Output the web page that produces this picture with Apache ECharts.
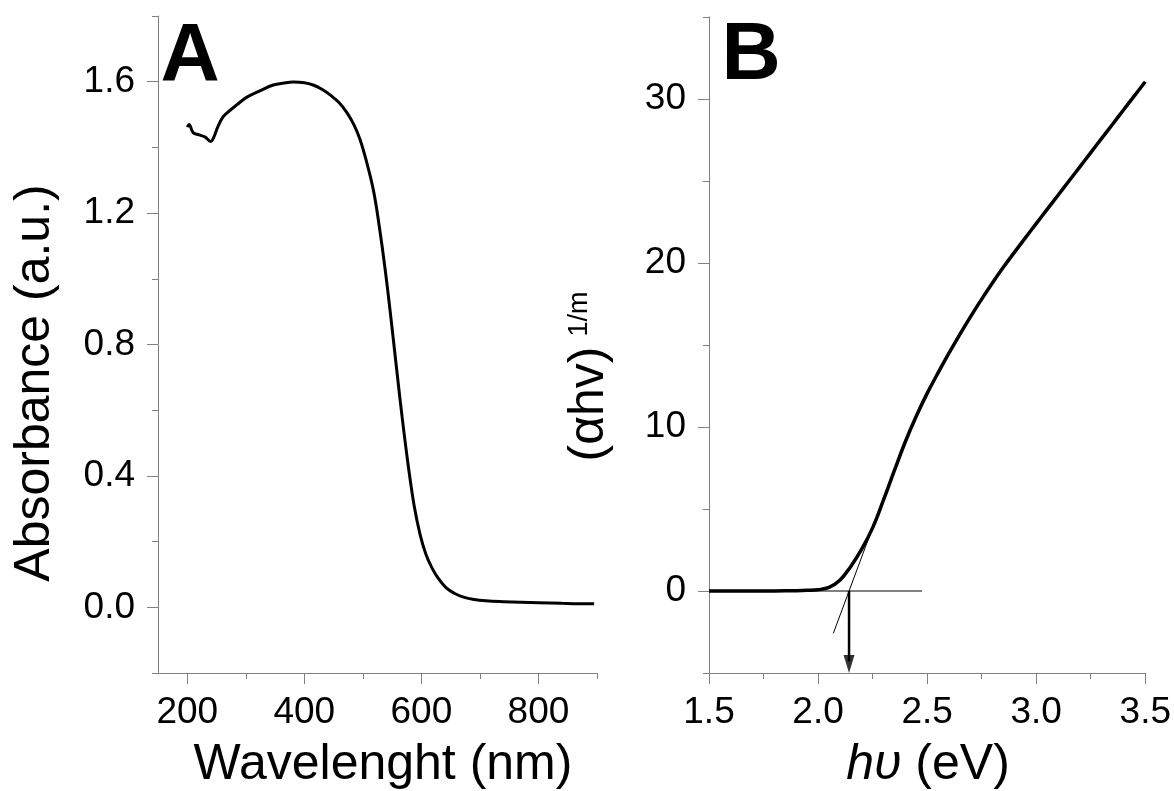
<!DOCTYPE html>
<html><head><meta charset="utf-8">
<script src="https://cdn.jsdelivr.net/npm/echarts@6/dist/echarts.min.js"></script>
<style>html,body{margin:0;padding:0;background:#fff}#c{width:1174px;height:791px}</style>
</head><body><div id="c"></div>
<script>
// Panel A: absorbance spectrum
const wavelength = [200,203,210,220,230,240,245,252,260,268,285,302,325,347,365,381,400,415,430,444,460,473,485,495,505,518,528,538,548,558,568,578,588,598,608,618,628,642,657,672,690,710,740,770,800,840,870,895];
const absorbance = [1.462,1.470,1.445,1.438,1.432,1.418,1.430,1.462,1.490,1.505,1.530,1.553,1.573,1.590,1.596,1.599,1.597,1.590,1.577,1.560,1.535,1.505,1.468,1.425,1.365,1.270,1.160,1.030,0.880,0.720,0.565,0.425,0.305,0.220,0.160,0.120,0.090,0.060,0.042,0.031,0.024,0.020,0.017,0.015,0.014,0.012,0.011,0.011];
// Panel B: Tauc plot
const energy = [1.5,1.6,1.7,1.8,1.9,1.95,2.0,2.05,2.10,2.15,2.20,2.25,2.30,2.35,2.40,2.45,2.50,2.55,2.60,2.65,2.70,2.75,2.80,2.85,2.90,2.95,3.00,3.05,3.10,3.15,3.20,3.25,3.30,3.35,3.40,3.45,3.50];
const alphaHv = [0,0,0,0.005,0.02,0.04,0.08,0.22,0.65,1.5,2.55,3.85,5.55,7.35,9.1,10.65,12.05,13.3,14.5,15.65,16.75,17.8,18.8,19.75,20.65,21.53,22.4,23.27,24.13,25.0,25.86,26.73,27.6,28.46,29.33,30.19,31.05];
const tangentE = [2.07, 2.32];
const tangentV = [-2.58, 6.37];
const baselineE = [1.5, 2.477];
const baselineV = [0, 0];
const arrowE = [2.142, 2.142];
const arrowV = [0, -4.3];
const arrowHeadE = [2.142];
const arrowHeadV = [-4.45];
// Ticks
const aXMajor = [200,400,600,800], aXMinor = [300,500,700,900];
const aYMajor = [0,0.4,0.8,1.2,1.6], aYMinor = [-0.2,0.2,0.6,1.0,1.4,1.8];
const bXMajor = [1.5,2.0,2.5,3.0,3.5], bXMinor = [1.75,2.25,2.75,3.25];
const bYMajor = [0,10,20,30], bYMinor = [-5,5,15,25,35];

const FONT = "'Liberation Sans', Arial, sans-serif";
const AX = '#808080';
const zip = (a,b) => a.map((v,i)=>[v,b[i]]);

function major(grid, min, max, ticks, fmt, pos, margin) {
  return {type:'value', gridIndex:grid, min, max, position:pos,
    axisLine:{show:true, onZero:false, lineStyle:{color:AX, width:1}},
    axisTick:{show:true, length:11, customValues:ticks, lineStyle:{color:AX, width:1}},
    axisLabel:{show:true, customValues:ticks, formatter:fmt, fontSize:37, color:'#000', fontFamily:FONT, margin:margin},
    splitLine:{show:false}};
}
function minor(grid, min, max, ticks, pos) {
  return {type:'value', gridIndex:grid, min, max, position:pos,
    axisLine:{show:false, onZero:false},
    axisTick:{show:true, length:6, customValues:ticks, lineStyle:{color:AX, width:1}},
    axisLabel:{show:false}, splitLine:{show:false}};
}

const chart = echarts.init(document.getElementById('c'), null, {renderer:'canvas'});
chart.setOption({
  animation:false,
  backgroundColor:'#fff',
  grid:[
    {left:158, right:577, top:16, bottom:118},
    {left:709, right:27, top:17, bottom:118}
  ],
  xAxis:[
    major(0,150,900,aXMajor,v=>String(v),'bottom',21),
    minor(0,150,900,aXMinor,'bottom'),
    major(1,1.5,3.5,bXMajor,v=>v.toFixed(1),'bottom',21),
    minor(1,1.5,3.5,bXMinor,'bottom')
  ],
  yAxis:[
    major(0,-0.2,1.8,aYMajor,v=>v.toFixed(1),'left',23),
    minor(0,-0.2,1.8,aYMinor,'left'),
    major(1,-5,35,bYMajor,v=>String(v),'left',23),
    minor(1,-5,35,bYMinor,'left')
  ],
  series:[
    {type:'line', xAxisIndex:0, yAxisIndex:0, data:zip(wavelength,absorbance), showSymbol:false, smooth:0.4,
     lineStyle:{color:'#000', width:3}},
    {type:'line', xAxisIndex:2, yAxisIndex:2, data:zip(baselineE,baselineV), showSymbol:false,
     lineStyle:{color:'#000', width:1}},
    {type:'line', xAxisIndex:2, yAxisIndex:2, data:zip(tangentE,tangentV), showSymbol:false,
     lineStyle:{color:'#000', width:1}},
    {type:'line', xAxisIndex:2, yAxisIndex:2, data:zip(energy,alphaHv), showSymbol:false, smooth:0.4,
     lineStyle:{color:'#000', width:3.5}},
    {type:'line', xAxisIndex:2, yAxisIndex:2, data:zip(arrowE,arrowV), showSymbol:false,
     lineStyle:{color:'#000', width:2.5}},
    {type:'scatter', xAxisIndex:2, yAxisIndex:2, data:zip(arrowHeadE,arrowHeadV), symbol:'triangle',
     symbolSize:[11,18], symbolRotate:180, itemStyle:{color:'#000'}}
  ],
  graphic:[
    {type:'text', x:190, y:57, style:{text:'A', font:"bold 82px "+FONT, fill:'#000', align:'center', verticalAlign:'middle'}},
    {type:'text', x:751, y:56, style:{text:'B', font:"bold 82px "+FONT, fill:'#000', align:'center', verticalAlign:'middle'}},
    {type:'text', x:35, y:383, rotation:Math.PI/2, style:{text:'Absorbance (a.u.)', font:"50px "+FONT, fill:'#000', align:'center', verticalAlign:'middle'}},
    {type:'text', x:383, y:765, style:{text:'Wavelenght (nm)', font:"50px "+FONT, fill:'#000', align:'center', verticalAlign:'middle'}},
    {type:'text', x:589, y:404, rotation:Math.PI/2, style:{text:'(αhv)', font:"50px "+FONT, fill:'#000', align:'center', verticalAlign:'middle'}},
    {type:'text', x:580, y:314, rotation:Math.PI/2, style:{text:'1/m', font:"27px "+FONT, fill:'#000', align:'center', verticalAlign:'middle'}},
    {type:'text', x:928, y:765, style:{text:'{i|hυ} (eV)', font:"50px "+FONT, fill:'#000', align:'center', verticalAlign:'middle',
      rich:{i:{fontStyle:'italic', fontSize:50, fontFamily:FONT}}}}
  ]
});
</script></body></html>
